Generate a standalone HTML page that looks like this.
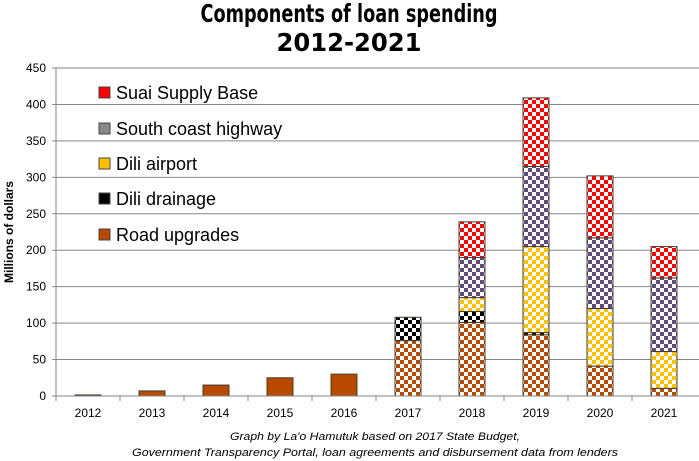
<!DOCTYPE html>
<html><head><meta charset="utf-8"><style>
html,body{margin:0;padding:0;background:#fff;}
svg{display:block;}
</style></head><body>
<svg id="chart" width="699" height="461" xmlns="http://www.w3.org/2000/svg">
<defs>
<pattern id="p-road" width="8" height="8" patternUnits="userSpaceOnUse"><rect width="8" height="8" fill="#fff"/><rect width="4" height="4" fill="#b84a00"/><rect x="4" y="4" width="4" height="4" fill="#b84a00"/></pattern>
<pattern id="p-drain" width="8" height="8" patternUnits="userSpaceOnUse"><rect width="8" height="8" fill="#fff"/><rect width="4" height="4" fill="#000"/><rect x="4" y="4" width="4" height="4" fill="#000"/></pattern>
<pattern id="p-air" width="8" height="8" patternUnits="userSpaceOnUse"><rect width="8" height="8" fill="#fff"/><rect width="4" height="4" fill="#ffc000"/><rect x="4" y="4" width="4" height="4" fill="#ffc000"/></pattern>
<pattern id="p-hwy" width="8" height="8" patternUnits="userSpaceOnUse"><rect width="8" height="8" fill="#fff"/><rect width="4" height="4" fill="#604a7b"/><rect x="4" y="4" width="4" height="4" fill="#604a7b"/></pattern>
<pattern id="p-suai" width="8" height="8" patternUnits="userSpaceOnUse"><rect width="8" height="8" fill="#fff"/><rect width="4" height="4" fill="#ff0000"/><rect x="4" y="4" width="4" height="4" fill="#ff0000"/></pattern>
</defs>
<text x="349" y="22" text-anchor="middle" font-family="DejaVu Sans, sans-serif" font-weight="bold" font-size="25" textLength="297" lengthAdjust="spacingAndGlyphs">Components of loan spending</text>
<text x="349" y="51" text-anchor="middle" font-family="DejaVu Sans, sans-serif" font-weight="bold" font-size="25" textLength="145" lengthAdjust="spacingAndGlyphs">2012-2021</text>
<g id="grid"></g>
<g id="bars"></g>
<g id="axes"></g>
<text transform="translate(13,232) rotate(-90)" text-anchor="middle" font-family="Liberation Sans, sans-serif" font-weight="bold" font-size="12">Millions of dollars</text>
<g font-family="Liberation Sans, sans-serif" font-size="18">
<g><rect x="99" y="87" width="11" height="11" fill="#ff0000" stroke="#444"/><text x="116" y="99">Suai Supply Base</text></g>
<g><rect x="99" y="123" width="11" height="11" fill="#888" stroke="#444"/><text x="116" y="135">South coast highway</text></g>
<g><rect x="99" y="158" width="11" height="11" fill="#ffc000" stroke="#444"/><text x="116" y="170">Dili airport</text></g>
<g><rect x="99" y="193" width="11" height="11" fill="#000" stroke="#444"/><text x="116" y="205">Dili drainage</text></g>
<g><rect x="99" y="229" width="11" height="11" fill="#b84a00" stroke="#444"/><text x="116" y="241">Road upgrades</text></g>
</g>
<text x="375" y="440" text-anchor="middle" font-family="Liberation Sans, sans-serif" font-style="italic" font-size="11" textLength="290" lengthAdjust="spacingAndGlyphs">Graph by La'o Hamutuk based on 2017 State Budget,</text>
<text x="375" y="456" text-anchor="middle" font-family="Liberation Sans, sans-serif" font-style="italic" font-size="11" textLength="486" lengthAdjust="spacingAndGlyphs">Government Transparency Portal, loan agreements and disbursement data from lenders</text>
</svg>
<script>
const years = ['2012','2013','2014','2015','2016','2017','2018','2019','2020','2021'];
const road = [1.5,7,15,25,30,76,101,84,41,10.5];
const drainage = [0,0,0,0,0,32,15,3,0,0];
const airport = [0,0,0,0,0,0,19,118,79,50.5];
const highway = [0,0,0,0,0,0,55,110,97,101];
const suai = [0,0,0,0,0,0,49,94,85,43];
const yTicks = [0,50,100,150,200,250,300,350,400,450];

const NS='http://www.w3.org/2000/svg';
const x0=56, band=64, y0=396, yMax=450, plotH=328, barW=26, xEnd=699;
const yS=v=>y0-v/yMax*plotH;
const xC=i=>x0+band*i+band/2;
function mk(tag,attrs,parent){const e=document.createElementNS(NS,tag);for(const k in attrs)e.setAttribute(k,attrs[k]);parent.appendChild(e);return e;}
const grid=document.getElementById('grid'),bars=document.getElementById('bars'),axes=document.getElementById('axes');
yTicks.forEach(t=>{
  if(t>0){const l=mk('line',{x1:x0,x2:xEnd,y1:yS(t),y2:yS(t),stroke:'#868686','stroke-width':1},grid);
  
  }
  const tx=mk('text',{x:46,y:yS(t)+4,'text-anchor':'end','font-family':'Liberation Sans, sans-serif','font-size':12},axes);
  tx.textContent=t;
  
  
  const tk=mk('line',{x1:x0-4,x2:x0,y1:yS(t),y2:yS(t),stroke:'#868686'},axes);
  
  
});
const ya=mk('line',{x1:x0,x2:x0,y1:yS(450),y2:y0,stroke:'#868686'},axes);


const xa=mk('line',{x1:x0,x2:xEnd,y1:y0,y2:y0,stroke:'#868686'},axes);


years.forEach((yr,i)=>{
  const tk=mk('line',{x1:x0+band*i,x2:x0+band*i,y1:y0,y2:y0+5,stroke:'#868686'},axes);
  
  
  const tx=mk('text',{x:xC(i),y:y0+21,'text-anchor':'middle','font-family':'Liberation Sans, sans-serif','font-size':12},axes);
  tx.textContent=yr;
  
  
});
const series=[['road-upgrades',road,'p-road'],['dili-drainage',drainage,'p-drain'],['dili-airport',airport,'p-air'],['south-coast-highway',highway,'p-hwy'],['suai-supply-base',suai,'p-suai']];
years.forEach((yr,i)=>{
  let base=0;
  const solid=+yr<2017;
  series.forEach(([nm,vals,pat])=>{
    const v=vals[i]; if(!v)return;
    const r=mk('rect',{x:xC(i)-barW/2,y:yS(base+v),width:barW,height:yS(base)-yS(base+v),fill:solid?'#b84a00':'url(#'+pat+')',stroke:'#3f3f2f','stroke-width':1},bars);
    
    
    base+=v;
  });
});
</script>
</body></html>
